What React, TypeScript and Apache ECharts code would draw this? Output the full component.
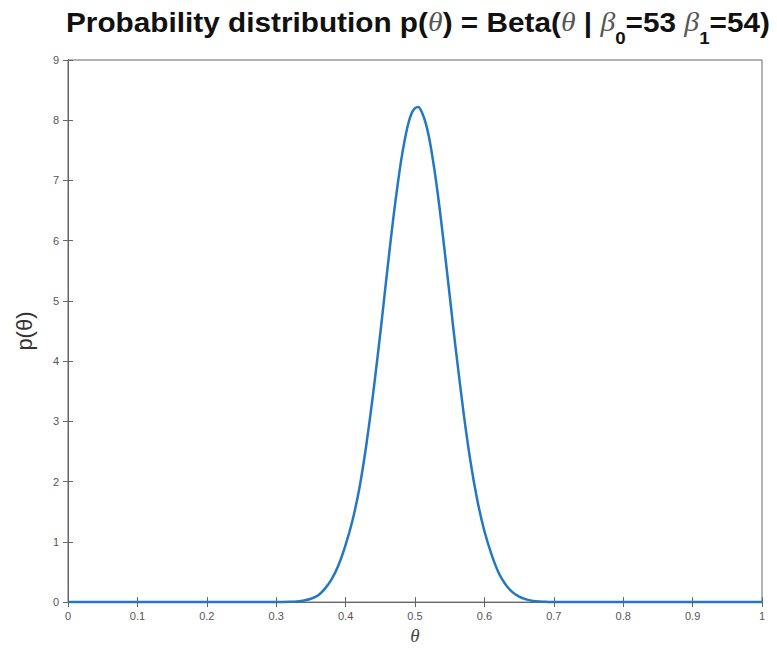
import React, { useEffect, useRef } from "react";
import * as echarts from "echarts";

const thetaValues: number[] = [
  0, 0.1, 0.2, 0.3, 0.32, 0.33, 0.34, 0.35, 0.36, 0.37, 0.38, 0.39, 0.4, 0.41, 0.42,
  0.43, 0.44, 0.45, 0.455, 0.46, 0.465, 0.47, 0.475, 0.48, 0.485, 0.49, 0.495, 0.5,
  0.505, 0.51, 0.515, 0.52, 0.525, 0.53, 0.535, 0.54, 0.545, 0.55, 0.555, 0.56,
  0.57, 0.58, 0.59, 0.6, 0.61, 0.62, 0.63, 0.64, 0.65, 0.66, 0.67, 0.68, 0.69, 0.7,
  0.8, 0.9, 1,
];
const densityValues: number[] = [
  0, 0, 0, 0, 0.005, 0.012, 0.026, 0.055, 0.11, 0.22, 0.38, 0.62, 0.95, 1.36, 1.9,
  2.62, 3.49, 4.46, 4.98, 5.5, 6.01, 6.49, 6.93, 7.33, 7.66, 7.93, 8.11, 8.2,
  8.22, 8.13, 7.97, 7.73, 7.4, 7.02, 6.58, 6.1, 5.6, 5.09, 4.57, 4.08,
  3.14, 2.33, 1.68, 1.18, 0.8, 0.5, 0.3, 0.17, 0.09, 0.045, 0.02, 0.01, 0.004, 0,
  0, 0, 0,
];
const xTickLabels: string[] = ["0", "0.1", "0.2", "0.3", "0.4", "0.5", "0.6", "0.7", "0.8", "0.9", "1"];
const yTickLabels: string[] = ["0", "1", "2", "3", "4", "5", "6", "7", "8", "9"];

// title pieces: [text, kind] where kind b=bold, i=italic greek, s=subscript
const titlePieces: [string, string][] = [
  ["Probability distribution p(", "b"],
  ["θ", "i"],
  [") = Beta(", "b"],
  ["θ", "i"],
  [" | ", "b"],
  ["β", "i"],
  ["0", "s"],
  ["=53 ", "b"],
  ["β", "i"],
  ["1", "s"],
  ["=54)", "b"],
];

export default function App() {
  const ref = useRef<HTMLDivElement>(null);
  useEffect(() => {
    if (!ref.current) return;
    const chart = echarts.init(ref.current, null, { renderer: "svg" });
    const axisColor = "#666";
    const tickLabelStyle = { color: "#555", fontSize: 11, fontFamily: "Liberation Sans" };

    const fonts: Record<string, string> = {
      b: "bold 27px 'Liberation Sans'",
      i: "italic 27px 'Liberation Serif'",
      s: "bold 17px 'Liberation Sans'",
    };
    const colors: Record<string, string> = { b: "#111", i: "#555", s: "#111" };
    const ctx = document.createElement("canvas").getContext("2d")!;
    let cx = 0;
    const children: any[] = titlePieces.map(([t, k]) => {
      ctx.font = fonts[k];
      const w = ctx.measureText(t).width;
      const el = {
        type: "text",
        x: cx,
        y: k === "s" ? 16.5 : 0,
        style: {
          text: t,
          font: fonts[k],
          fill: colors[k],
          align: "left",
          verticalAlign: "middle",
        },
      };
      cx += w;
      return el;
    });
    const targetWidth = 704;
    const sx = targetWidth / cx;

    chart.setOption({
      animation: false,
      backgroundColor: "#fff",
      graphic: [
        {
          type: "group",
          x: 66,
          y: 22,
          scaleX: sx,
          children,
        },
      ],
      grid: {
        left: 68,
        right: 15,
        top: 60,
        bottom: 42,
        show: true,
        borderColor: axisColor,
        borderWidth: 1,
        backgroundColor: "transparent",
      },
      xAxis: [
        {
          type: "value",
          min: 0,
          max: 1,
          interval: 0.1,
          name: "θ",
          nameLocation: "middle",
          nameGap: 17,
          nameTextStyle: { fontFamily: "Liberation Serif", fontStyle: "italic", fontSize: 19, color: "#444" },
          axisLine: { show: true, lineStyle: { color: axisColor } },
          axisTick: { show: true, inside: true, length: 5, lineStyle: { color: axisColor } },
          axisLabel: {
            ...tickLabelStyle,
            margin: 8,
            formatter: (v: number) => xTickLabels[Math.round(v * 10)] ?? "",
          },
          splitLine: { show: false },
        },
        {
          type: "value",
          position: "top",
          min: 0,
          max: 1,
          interval: 0.1,
          axisLine: { show: true, lineStyle: { color: axisColor } },
          axisTick: { show: true, inside: true, length: 5, lineStyle: { color: axisColor } },
          axisLabel: { show: false },
          splitLine: { show: false },
        },
      ],
      yAxis: [
        {
          type: "value",
          min: 0,
          max: 9,
          interval: 1,
          name: "p(θ)",
          nameLocation: "middle",
          nameGap: 33,
          nameTextStyle: { fontFamily: "Liberation Sans", fontSize: 22, color: "#333" },
          axisLine: { show: true, lineStyle: { color: axisColor } },
          axisTick: { show: true, inside: true, length: 5, lineStyle: { color: axisColor } },
          axisLabel: {
            ...tickLabelStyle,
            margin: 9,
            formatter: (v: number) => yTickLabels[Math.round(v)] ?? "",
          },
          splitLine: { show: false },
        },
        {
          type: "value",
          position: "right",
          min: 0,
          max: 9,
          interval: 1,
          axisLine: { show: true, lineStyle: { color: axisColor } },
          axisTick: { show: true, inside: true, length: 5, lineStyle: { color: axisColor } },
          axisLabel: { show: false },
          splitLine: { show: false },
        },
      ],
      series: [
        {
          type: "line",
          xAxisIndex: 0,
          yAxisIndex: 0,
          data: thetaValues.map((x, i) => [x, densityValues[i]]),
          smooth: 0.25,
          showSymbol: false,
          lineStyle: { color: "#2378c0", width: 2.5, join: "round" },
          clip: false,
        },
      ],
    });
    return () => chart.dispose();
  }, []);
  return <div ref={ref} style={{ position: "fixed", left: 0, top: 0, width: 777, height: 650 }} />;
}
